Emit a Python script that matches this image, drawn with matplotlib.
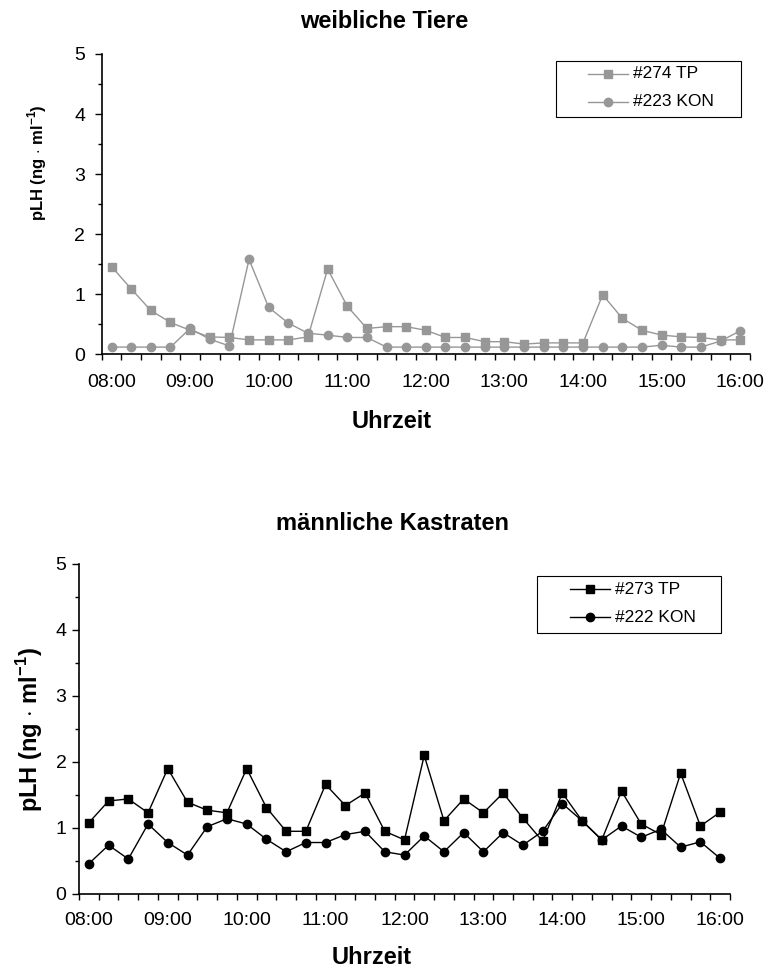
import matplotlib
matplotlib.use('Agg')
import matplotlib.pyplot as plt
from matplotlib.lines import Line2D
from matplotlib.patches import Rectangle
from matplotlib.ticker import MultipleLocator

plt.rcParams['font.family'] = 'Liberation Sans'
plt.rcParams['mathtext.fontset'] = 'custom'
plt.rcParams['mathtext.rm'] = 'Liberation Sans'
plt.rcParams['mathtext.bf'] = 'Liberation Sans:bold'

# sampling times, every 15 minutes from 08:00 to 16:00
times = ['%02d:%02d' % (8 + m // 60, m % 60) for m in range(0, 8 * 60 + 1, 15)]

# weibliche Tiere
tp_274 = [1.46, 1.09, 0.73, 0.53, 0.40, 0.29, 0.28, 0.24, 0.24, 0.24, 0.29,
          1.42, 0.80, 0.43, 0.46, 0.46, 0.40, 0.28, 0.28, 0.21, 0.21, 0.17,
          0.19, 0.19, 0.19, 0.99, 0.60, 0.40, 0.32, 0.29, 0.28, 0.24, 0.24]
kon_223 = [0.12, 0.12, 0.12, 0.12, 0.43, 0.25, 0.14, 1.58, 0.78, 0.52, 0.35,
           0.32, 0.28, 0.28, 0.12, 0.12, 0.12, 0.12, 0.12, 0.12, 0.12, 0.12,
           0.12, 0.12, 0.12, 0.12, 0.12, 0.12, 0.15, 0.12, 0.12, 0.22, 0.39]

# maennliche Kastraten
tp_273 = [1.08, 1.41, 1.44, 1.23, 1.90, 1.39, 1.27, 1.23, 1.90, 1.31, 0.95,
          0.95, 1.66, 1.34, 1.53, 0.95, 0.82, 2.10, 1.11, 1.44, 1.23, 1.53,
          1.15, 0.80, 1.53, 1.11, 0.82, 1.56, 1.06, 0.90, 1.83, 1.03, 1.24]
kon_222 = [0.46, 0.74, 0.53, 1.06, 0.78, 0.59, 1.02, 1.14, 1.06, 0.83, 0.64,
           0.78, 0.78, 0.90, 0.95, 0.64, 0.59, 0.88, 0.64, 0.93, 0.64, 0.93,
           0.74, 0.95, 1.37, 1.11, 0.82, 1.03, 0.86, 0.98, 0.71, 0.79, 0.54]

W, H = 768, 968
fig = plt.figure(figsize=(W / 100, H / 100), dpi=100)

grey = '#979797'
ylab = r'pLH (ng $\cdot$ ml$^{\mathbf{-1}}$)'


def px(x0, y0, x1, y1):
    # pixel box -> figure fraction rect
    return [x0 / W, 1 - y1 / H, (x1 - x0) / W, (y1 - y0) / H]


def fx(x):
    return x / W


def fy(y):
    return 1 - y / H


def setup(ax, ypad, xpad):
    n = len(times)
    ax.set_xlim(-0.5, n - 0.5)
    ax.set_ylim(0, 5)
    ax.spines['top'].set_visible(False)
    ax.spines['right'].set_visible(False)
    for s in ('left', 'bottom'):
        ax.spines[s].set_linewidth(1.2)
    ax.set_xticks(range(0, n, 4))
    ax.set_xticklabels(times[::4])
    ax.set_xticks([i - 0.5 for i in range(n + 1)], minor=True)
    ax.tick_params(axis='x', which='major', length=0, labelsize=14, pad=xpad)
    ax.tick_params(axis='x', which='minor', length=4.5, width=1, direction='out')
    ax.yaxis.set_major_locator(MultipleLocator(1))
    ax.yaxis.set_minor_locator(MultipleLocator(0.5))
    ax.tick_params(axis='y', which='major', length=5, width=1, labelsize=14, pad=ypad)
    ax.tick_params(axis='y', which='minor', length=3, width=1)


def legend_box(lines, box, rows, hx0, hx1, tx):
    # framed legend placed in figure pixels
    x0, y0, x1, y1 = box
    fig.add_artist(Rectangle((fx(x0), fy(y1)), fx(x1) - fx(x0), fy(y0) - fy(y1),
                             transform=fig.transFigure, facecolor='white',
                             edgecolor='black', linewidth=0.8, zorder=5))
    for ln, ry in zip(lines, rows):
        fig.add_artist(Line2D([fx(hx0), fx(hx1)], [fy(ry), fy(ry)],
                              transform=fig.transFigure, color=ln.get_color(),
                              linewidth=ln.get_linewidth(), zorder=6))
        fig.add_artist(Line2D([fx((hx0 + hx1) / 2)], [fy(ry)],
                              transform=fig.transFigure, linestyle='none',
                              marker=ln.get_marker(), markersize=ln.get_markersize(),
                              color=ln.get_color(), zorder=6))
        fig.text(fx(tx), fy(ry), ln.get_label(), ha='left', va='center',
                 fontsize=12.5, zorder=6)


x = range(len(times))

ax1 = fig.add_axes(px(101.7, 54, 750, 354.3))
l1 = ax1.plot(x, tp_274, color=grey, marker='s', markersize=6, linewidth=1, label='#274 TP')[0]
l2 = ax1.plot(x, kon_223, color=grey, marker='o', markersize=6, linewidth=1, label='#223 KON')[0]
setup(ax1, 7, 14)
legend_box([l1, l2], (556, 61, 741, 117), (74, 102), 588, 628, 633)

fig.text(384 / W, 1 - 22 / H, 'weibliche Tiere', ha='center', va='center',
         fontsize=17, fontweight='bold')
fig.text(392 / W, 1 - 422 / H, 'Uhrzeit', ha='center', va='center',
         fontsize=17, fontweight='bold')
fig.text(37 / W, 1 - 163 / H, ylab, rotation=90, ha='center', va='center',
         fontsize=12, fontweight='bold')

ax2 = fig.add_axes(px(79, 564, 730, 894))
l3 = ax2.plot(x, tp_273, color='black', marker='s', markersize=6, linewidth=1, label='#273 TP')[0]
l4 = ax2.plot(x, kon_222, color='black', marker='o', markersize=6, linewidth=1, label='#222 KON')[0]
setup(ax2, 4, 13)
legend_box([l3, l4], (537, 576, 721, 633), (589, 617), 570, 610, 615)

fig.text(392 / W, 1 - 523 / H, 'männliche Kastraten', ha='center', va='center',
         fontsize=17, fontweight='bold')
fig.text(372 / W, 1 - 958 / H, 'Uhrzeit', ha='center', va='center',
         fontsize=17, fontweight='bold')
fig.text(30 / W, 1 - 729 / H, ylab, rotation=90, ha='center', va='center',
         fontsize=17, fontweight='bold')

fig.savefig('out.png', dpi=100)
